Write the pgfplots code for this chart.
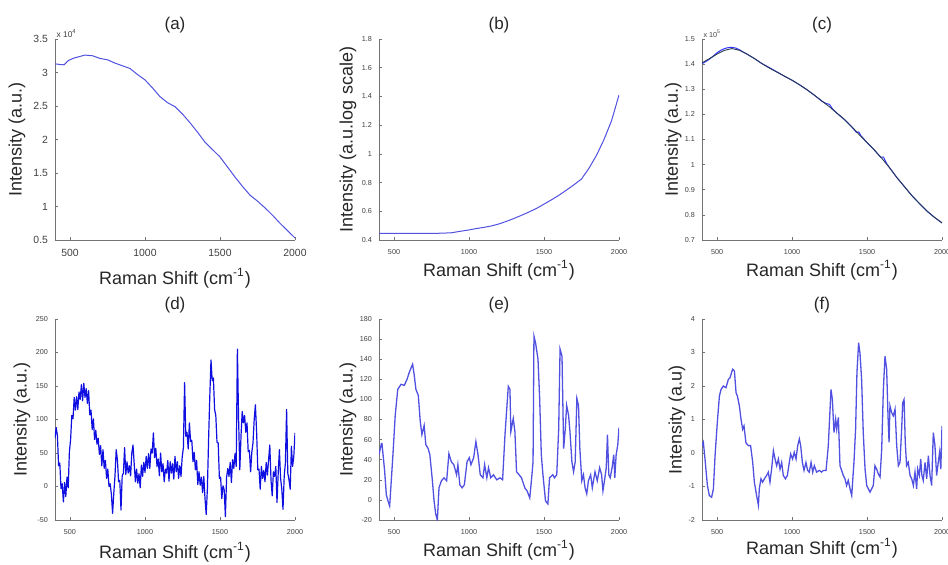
\documentclass[border=0pt]{standalone}
\usepackage{pgfplots}
\pgfplotsset{compat=1.18}
\usepackage{fontspec}
\setmainfont{Liberation Sans}
\definecolor{mblue}{RGB}{80,80,225}
\definecolor{dblue}{RGB}{15,15,225}
\definecolor{fitc}{RGB}{40,60,80}
\pgfplotsset{
 mstyle/.style={
  scale only axis, width=120pt, height=100.5pt,
  anchor=south west,
  axis x line*=bottom, axis y line*=left,
  axis line style={black!55, line width=0.4pt, -},
  tick align=inside, major tick length=1.5pt,
  tick style={black!55, line width=0.3pt},
  xmin=400, xmax=2000, xtick={500,1000,1500,2000},
  /pgf/number format/assume math mode=true,
  /pgf/number format/1000 sep={},
  ticklabel style={text=black!75, font=\fontsize{3.6pt}{4pt}\selectfont},
  xticklabel style={yshift=-1pt},
  xlabel={Raman Shift (cm\textsuperscript{-1})},
  every axis title/.style={at={(axis description cs:0.5,1.07)}, anchor=center, text=black!85, font=\fontsize{8.5pt}{10pt}\selectfont},
  every y tick scale label/.style={at={(axis description cs:0,1)}, anchor=south west, inner sep=0.6pt, text=black!75, font=\fontsize{3.6pt}{4pt}\selectfont},
  ytick scale label code/.code={x 10\textsuperscript{##1}},
 },
 ylab/.style={every axis y label/.style={at={(axis description cs:#1,0.5)}, rotate=90, anchor=center, text=black!85, font=\fontsize{9pt}{10pt}\selectfont}},
 xlab/.style={every axis x label/.style={at={(axis description cs:0.5,#1)}, anchor=center, text=black!85, font=\fontsize{9pt}{10pt}\selectfont}},
}
\begin{document}
\begin{tikzpicture}
\path[use as bounding box] (0,0) rectangle (474pt,282pt);
% (a)
\begin{axis}[mstyle, at={(27.5pt,162pt)}, ylab=-0.158, xlab=-0.19,
  title={(a)}, ylabel={Intensity (a.u.)},
  ymin=5000, ymax=35000, ytick={5000,10000,15000,20000,25000,30000,35000},
  scaled y ticks=base 10:-4,
  ticklabel style={font=\fontsize{5.2pt}{6pt}\selectfont},
  every y tick scale label/.append style={font=\fontsize{4.2pt}{5pt}\selectfont}]
\addplot[mblue, line width=0.5pt] coordinates {
(400,31300) (430,31200) (460,31150) (490,31800) (520,32100) (550,32300) (600,32600)
(650,32500) (700,32100) (750,31900) (800,31400) (850,31000) (900,30600) (950,29700)
(1000,28900) (1050,27700) (1100,26400) (1150,25500) (1200,24900) (1250,23800)
(1300,22500) (1350,21100) (1400,19600) (1450,18500) (1500,17400) (1550,15900)
(1600,14400) (1650,13000) (1700,11700) (1750,10800) (1800,9800) (1850,8700)
(1900,7500) (1950,6400) (2000,5300)};
\end{axis}
% (b)
\begin{axis}[mstyle, at={(189.5pt,162pt)}, ylab=-0.129, xlab=-0.152,
  title={(b)}, ylabel={Intensity (a.u.log scale)},
  ymin=0.4, ymax=1.8, ytick={0.4,0.6,0.8,1,1.2,1.4,1.6,1.8}]
\addplot[mblue, line width=0.5pt] coordinates {
(400,0.447) (500,0.446) (600,0.446) (700,0.446) (800,0.447) (880,0.450) (950,0.462)
(1000,0.470) (1050,0.480) (1100,0.488) (1150,0.498) (1200,0.512) (1250,0.530)
(1300,0.550) (1350,0.572) (1400,0.595) (1450,0.620) (1500,0.650) (1550,0.680)
(1600,0.712) (1650,0.748) (1700,0.785) (1750,0.825) (1780,0.870) (1800,0.900)
(1850,0.990) (1900,1.100) (1950,1.230) (2000,1.410)};
\end{axis}
% (c)
\begin{axis}[mstyle, at={(351pt,162pt)}, ylab=-0.12, xlab=-0.15,
  title={(c)}, ylabel={Intensity (a.u.)},
  ymin=70000, ymax=150000, ytick={70000,80000,90000,100000,110000,120000,130000,140000,150000},
  scaled y ticks=base 10:-5]
\addplot[blue!80, line width=0.5pt] coordinates {
(400,140200) (425,141000) (450,142000) (475,143200) (500,144500) (525,145500)
(550,146200) (575,146600) (600,146700) (625,146400) (650,145700) (675,144800)
(700,144000) (725,143100) (750,142200) (800,140200) (850,138600) (900,136900)
(950,135200) (1000,133600) (1050,131800) (1100,129800) (1150,127600) (1200,125200)
(1230,124300) (1250,124000) (1270,122200) (1300,120400) (1350,117900) (1400,114900)
(1430,112800) (1445,113000) (1460,111500) (1500,108800) (1550,105700) (1590,103000)
(1610,103000) (1630,100500) (1650,98800) (1700,94800) (1750,91200) (1800,87600)
(1850,84500) (1900,81500) (1950,79000) (2000,76800)};
\addplot[fitc, line width=0.45pt] coordinates {
(400,140500) (450,142200) (500,144000) (550,145500) (600,146200) (650,145500)
(700,144000) (750,142200) (800,140200) (850,138400) (900,136800) (950,135200)
(1000,133600) (1050,131800) (1100,129800) (1150,127600) (1200,125300) (1250,123000)
(1300,120500) (1350,118000) (1400,115000) (1450,111800) (1500,108800) (1550,105800)
(1600,102400) (1650,98800) (1700,94800) (1750,91200) (1800,87600) (1850,84500)
(1900,81500) (1950,79000) (2000,76800)};
\end{axis}
% (d)
\begin{axis}[mstyle, at={(27.5pt,22pt)}, ylab=-0.1375, xlab=-0.16,
  title={(d)}, ylabel={Intensity (a.u.)},
  ymin=-50, ymax=250, ytick={-50,0,50,100,150,200,250}]
\addplot[dblue, line width=0.6pt, line join=round] coordinates {
(400,72) (408,88) (416,76) (424,31) (432,35) (440,-3) (448,4) (456,-23) (464,6) (472,-15)
(480,14) (488,-2) (496,52) (504,70) (512,106) (520,101) (528,133) (536,114) (544,134) (552,115)
(560,141) (568,130) (576,152) (584,128) (592,154) (600,133) (608,146) (616,124) (624,143) (632,107)
(640,114) (648,85) (656,101) (664,70) (672,84) (680,63) (688,72) (696,48) (704,61) (712,31)
(720,55) (728,27) (736,39) (744,12) (752,26) (760,0) (768,4) (776,-12) (784,-40) (792,-10)
(800,16) (808,55) (816,40) (824,7) (832,9) (840,-35) (848,16) (856,20) (864,58) (872,18)
(880,37) (888,20) (896,31) (904,16) (912,50) (920,62) (928,34) (936,7) (944,26) (952,5)
(960,19) (968,-2) (976,32) (984,15) (992,36) (1000,21) (1008,45) (1016,27) (1024,49) (1032,27)
(1040,56) (1048,50) (1056,80) (1064,43) (1072,57) (1080,30) (1088,41) (1096,16) (1104,50) (1112,22)
(1120,34) (1128,7) (1136,26) (1144,20) (1152,39) (1160,8) (1168,37) (1176,20) (1184,34) (1192,11)
(1200,45) (1208,22) (1216,37) (1224,12) (1232,31) (1240,15) (1248,44) (1256,58) (1264,155) (1272,75)
(1280,81) (1288,56) (1296,95) (1304,67) (1312,69) (1320,37) (1328,51) (1336,25) (1344,39) (1352,3)
(1360,22) (1368,2) (1376,14) (1384,-9) (1392,15) (1400,-18) (1408,-42) (1416,-3) (1424,71) (1432,135)
(1440,189) (1448,158) (1456,162) (1464,115) (1472,106) (1480,66) (1488,65) (1496,12) (1504,14) (1512,-18)
(1520,1) (1528,-5) (1536,-45) (1544,14) (1552,27) (1560,15) (1568,36) (1576,6) (1584,40) (1592,27)
(1600,49) (1608,30) (1616,205) (1624,100) (1632,25) (1640,75) (1648,112) (1656,95) (1664,106) (1672,81)
(1680,95) (1688,52) (1696,54) (1704,22) (1712,51) (1720,65) (1728,100) (1736,122) (1744,82) (1752,25)
(1760,26) (1768,-4) (1776,30) (1784,12) (1792,24) (1800,7) (1808,36) (1816,17) (1824,40) (1832,62)
(1840,10) (1848,-14) (1856,22) (1864,15) (1872,30) (1880,-24) (1888,20) (1896,55) (1904,12) (1912,-4)
(1920,-34) (1928,15) (1936,35) (1944,115) (1952,20) (1960,10) (1968,-4) (1976,60) (1984,30) (1992,45)
(2000,80)};
\end{axis}
% (e)
\begin{axis}[mstyle, at={(189.5pt,22pt)}, ylab=-0.129, xlab=-0.15,
  title={(e)}, ylabel={Intensity (a.u.)},
  ymin=-20, ymax=180, ytick={-20,0,20,40,60,80,100,120,140,160,180}]
\addplot[mblue, line width=0.65pt] coordinates {
(400,45) (416,56) (420,56) (438,28) (449,5) (460,-1) (471,-6) (493,45) (508,84) (525,110)
(547,115) (569,114) (587,120) (602,127) (618,133) (624,135) (635,124) (646,110) (662,104) (675,78)
(686,65) (701,74) (712,55) (728,51) (739,45) (756,19) (767,-1) (778,-14) (789,-20) (800,12)
(816,19) (833,22) (851,19) (866,46) (882,38) (899,35) (917,25) (926,35) (939,15) (954,12)
(969,15) (987,38) (1002,42) (1013,35) (1031,42) (1046,58) (1060,45) (1075,25) (1093,22) (1104,35)
(1119,22) (1130,32) (1145,22) (1163,25) (1185,20) (1207,22) (1224,20) (1240,65) (1262,113) (1273,110)
(1279,68) (1295,81) (1306,68) (1317,28) (1334,25) (1350,22) (1372,12) (1387,9) (1405,2) (1416,19)
(1427,38) (1433,163) (1444,156) (1460,140) (1471,101) (1482,45) (1493,25) (1510,-1) (1526,-4) (1537,22)
(1559,25) (1570,22) (1585,25) (1598,71) (1607,150) (1620,143) (1631,51) (1642,71) (1651,94) (1664,84)
(1673,68) (1686,38) (1697,28) (1708,38) (1719,101) (1730,94) (1739,51) (1752,19) (1763,25) (1774,12)
(1785,6) (1796,19) (1811,25) (1822,12) (1840,28) (1855,19) (1871,32) (1884,25) (1893,9) (1906,22)
(1915,32) (1923,65) (1932,25) (1941,22) (1954,32) (1965,45) (1972,22) (1981,45) (1992,55) (2000,72)};
\end{axis}
% (f)
\begin{axis}[mstyle, at={(351pt,22pt)}, ylab=-0.104, xlab=-0.14,
  title={(f)}, ylabel={Intensity (a.u)},
  ymin=-2, ymax=4, ytick={-2,-1,0,1,2,3,4}]
\addplot[mblue, line width=0.65pt] coordinates {
(400,0.22) (409,0.32) (420,-0.18) (436,-0.97) (449,-1.27) (464,-1.32) (476,-1.07) (487,-0.08) (502,0.91) (516,1.70)
(527,1.90) (542,2.00) (560,1.95) (576,2.20) (587,2.25) (604,2.50) (616,2.45) (627,1.80) (636,1.70) (649,1.41)
(660,1.01) (671,0.71) (680,0.81) (693,0.30) (709,0.22) (724,0.22) (738,-0.28) (749,-0.87) (764,-1.27) (776,-1.56)
(782,-1.07) (793,-0.77) (804,-0.87) (816,-0.77) (831,-0.67) (842,-0.57) (853,-0.87) (864,-0.48) (876,0.07) (887,-0.18)
(898,-0.38) (909,-0.18) (920,-0.48) (931,-0.28) (942,-0.67) (956,-0.77) (969,-0.67) (982,-0.28) (991,-0.03) (1004,-0.18)
(1015,0.02) (1027,-0.18) (1038,0.22) (1049,0.42) (1058,0.22) (1069,-0.28) (1080,-0.52) (1093,-0.28) (1104,-0.52) (1115,-0.57)
(1127,-0.28) (1138,-0.57) (1149,-0.38) (1164,-0.57) (1182,-0.52) (1198,-0.57) (1209,-0.52) (1227,-0.52) (1242,0.22) (1260,1.90)
(1269,1.60) (1280,0.61) (1291,1.01) (1298,0.71) (1309,1.06) (1320,-0.38) (1331,-0.52) (1342,-0.67) (1353,-0.77) (1364,-0.97)
(1375,-0.82) (1387,-1.07) (1398,-1.27) (1404,-0.87) (1413,-0.28) (1424,0.71) (1433,2.40) (1444,3.29) (1453,2.99) (1464,2.20)
(1475,0.61) (1487,-0.48) (1498,-0.97) (1509,-1.07) (1520,-1.17) (1531,-1.07) (1542,-0.97) (1553,-0.38) (1564,-0.48) (1575,-0.62)
(1587,-0.72) (1598,0.12) (1609,1.90) (1620,2.89) (1631,2.50) (1640,1.11) (1647,0.32) (1653,1.41) (1664,1.21) (1675,1.11)
(1687,1.31) (1698,0.22) (1709,-0.38) (1720,-0.28) (1731,0.71) (1738,1.50) (1747,1.60) (1755,0.32) (1764,-0.38) (1775,-0.28)
(1787,-0.67) (1798,-0.77) (1809,-0.97) (1820,-0.57) (1831,-1.07) (1838,-0.48) (1849,-0.67) (1858,-0.18) (1866,-0.67) (1875,-0.82)
(1887,-0.28) (1898,-0.77) (1909,-0.08) (1920,-0.67) (1931,-0.97) (1942,0.61) (1953,0.22) (1964,-0.67) (1975,-0.28) (1984,0.02)
(1992,-0.48) (2000,0.80)};
\end{axis}
\end{tikzpicture}
\end{document}
